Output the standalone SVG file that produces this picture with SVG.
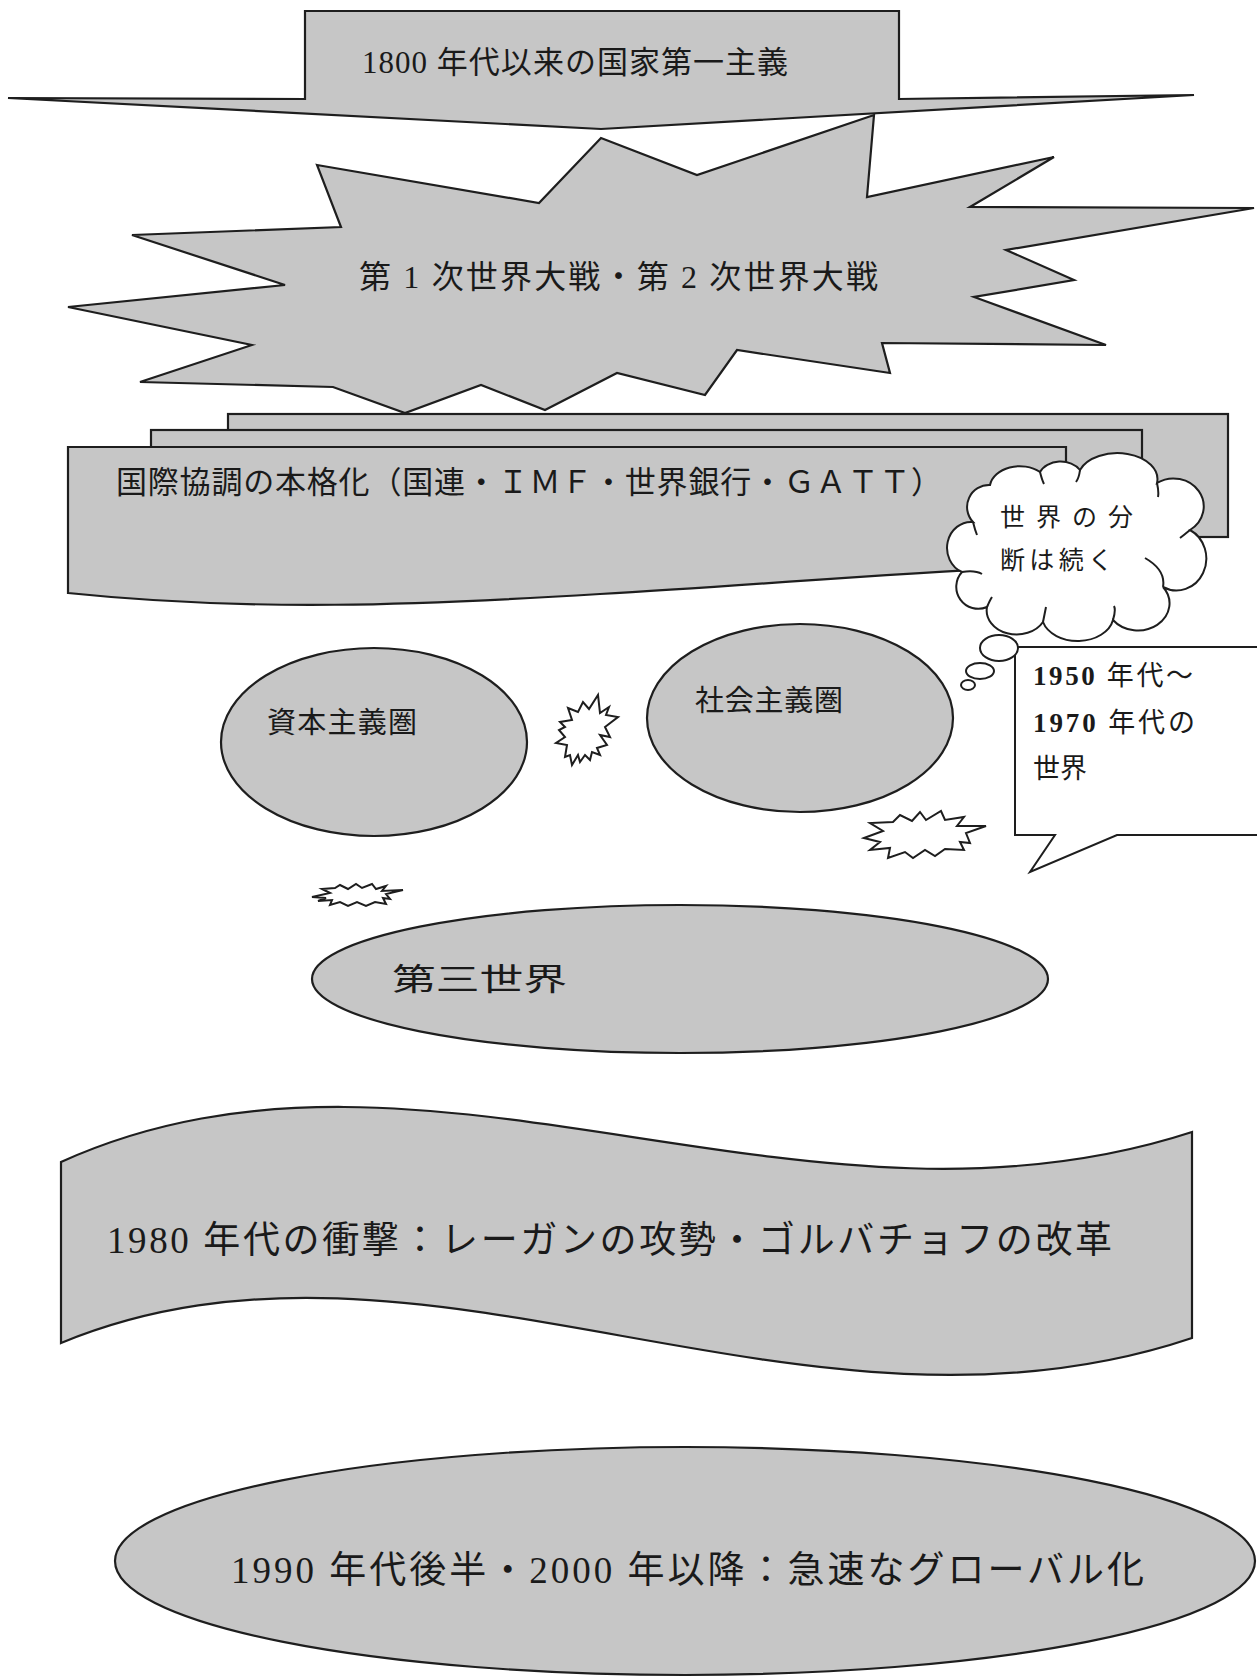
<svg xmlns="http://www.w3.org/2000/svg" width="1257" height="1677" viewBox="0 0 1257 1677">
<style>
.shape{fill:#c6c6c6;stroke:#1e1e1e;stroke-width:2.2;stroke-linejoin:miter}
.white{fill:#ffffff;stroke:#1e1e1e;stroke-width:2}
.line{fill:none;stroke:#1e1e1e;stroke-width:2}
.t{font-family:'Liberation Serif','Noto Sans CJK JP',serif;fill:#1a1a1a}
.b{font-weight:bold}
</style>
<rect width="1257" height="1677" fill="#ffffff"/>
<g id="arrow-1800">
<path class="shape" d="M305,11 L899,11 L899,99 L1194,95 L601,129 L8,98 L305,99 Z"/>
<text class="t" x="362" y="73" font-size="31" textLength="426">1800 年代以来の国家第一主義</text>
</g>
<g id="explosion-wars">
<path class="shape" d="M317,165 L539,203 L601,138 L697,175 L874,115 L867,197 L1054,157 L970,207 L1254,208 L1006,250 L1074,280 L974,297 L1106,345 L882,343 L890,373 L737,350 L705,395 L617,373 L545,410 L481,385 L405,413 L333,387 L140,382 L252,345 L68,307 L285,285 L132,235 L341,227 Z"/>
<text class="t" x="359" y="288" font-size="32" textLength="519">第 1 次世界大戦・第 2 次世界大戦</text>
</g>
<g id="pages-cooperation">
<rect class="shape" x="228" y="414" width="1000" height="123"/>
<rect class="shape" x="151" y="430" width="991" height="125"/>
<path class="shape" d="M68,447 L1066,447 L1066,565 C900,572 760,585 600,594 C420,605 250,612 68,593 Z"/>
<text class="t" x="116" y="493" font-size="31" textLength="826">国際協調の本格化（国連・ＩＭＦ・世界銀行・ＧＡＴＴ）</text>
</g>
<g id="callout-period">
<path class="white" d="M1015,647 L1262,647 L1262,835 L1117,835 L1030,872 L1055,835 L1015,835 Z"/>
<text class="t" x="1033" y="685" font-size="27" textLength="160"><tspan class="b">1950</tspan> 年代～</text>
<text class="t" x="1033" y="732" font-size="27" textLength="162"><tspan class="b">1970</tspan> 年代の</text>
<text class="t" x="1033" y="778" font-size="27">世界</text>
</g>
<g id="cloud-division">
<path class="white" d="M962,572 A24,26 0 0 1 973,522 A22,22 0 0 1 990,485 A30,22 0 0 1 1040,472 A22,16 0 0 1 1080,470 A40,26 0 0 1 1157,483 A28,26 0 0 1 1190,530 A28,30 0 0 1 1163,587 A28,24 0 0 1 1113,620 A36,26 0 0 1 1043,622 A30,24 0 0 1 987,607 A22,22 0 0 1 962,572 Z"/>
<path class="line" d="M962,572 Q975,570 982,574 M973,522 Q975,530 977,535 M1040,472 Q1042,480 1044,484 M1080,470 Q1079,478 1076,482 M1157,483 Q1159,492 1158,497 M1190,530 Q1184,535 1180,538 M1163,587 Q1166,570 1145,558 M1113,620 Q1116,610 1114,606 M1043,622 Q1045,612 1046,607 M987,607 Q990,600 992,597"/>
<text class="t" x="1000" y="526" font-size="25" textLength="133">世界の分</text>
<text class="t" x="1000" y="569" font-size="25" textLength="113">断は続く</text>
<ellipse class="white" cx="999" cy="648" rx="19" ry="13"/>
<ellipse class="white" cx="980" cy="671" rx="14" ry="8"/>
<ellipse class="white" cx="968" cy="685" rx="7" ry="5"/>
</g>
<g id="ellipse-capitalism">
<ellipse class="shape" cx="374" cy="742" rx="153" ry="94"/>
<text class="t" x="267" y="733" font-size="29" textLength="150">資本主義圏</text>
</g>
<g id="ellipse-socialism">
<ellipse class="shape" cx="800" cy="718" rx="153" ry="94"/>
<text class="t" x="695" y="711" font-size="29" textLength="148">社会主義圏</text>
</g>
<g id="burst-middle">
<path class="white" d="M568,708 L578,712 L583,702 L589,709 L598,695 L600,713 L609,707 L606,715 L618,717 L605,727 L610,737 L600,735 L607,745 L597,748 L600,755 L592,752 L590,760 L585,755 L580,762 L578,755 L572,765 L570,755 L565,757 L567,745 L556,743 L565,737 L559,730 L565,727 L560,722 L572,720 Z"/>
</g>
<g id="burst-right">
<path class="white" d="M864,838 L883,831 L870,823 L893,822 L900,815 L912,821 L920,812 L926,820 L941,811 L945,820 L964,817 L957,826 L986,826 L966,833 L970,843 L960,842 L964,850 L945,849 L935,856 L925,850 L913,858 L905,852 L888,858 L890,848 L870,850 L880,842 Z"/>
</g>
<g id="burst-left">
<path class="white" d="M312,897 L330,893 L322,889 L335,888 L340,885 L348,889 L356,884 L362,888 L372,884 L376,889 L386,886 L382,891 L403,890 L386,894 L390,899 L383,898 L386,904 L375,902 L366,906 L357,902 L348,906 L340,902 L330,905 L332,900 L318,901 L326,898 Z"/>
</g>
<g id="ellipse-third-world">
<ellipse class="shape" cx="680" cy="979" rx="368" ry="74"/>
<text class="t" x="392" y="990" font-size="31" textLength="175" lengthAdjust="spacingAndGlyphs">第三世界</text>
</g>
<g id="banner-1980s">
<path class="shape" d="M61,1162 C420,1000 800,1260 1192,1132 L1192,1338 C800,1470 420,1195 61,1343 Z"/>
<text class="t" x="107" y="1253" font-size="37" textLength="1005">1980 年代の衝撃：レーガンの攻勢・ゴルバチョフの改革</text>
</g>
<g id="ellipse-globalization">
<ellipse class="shape" cx="685" cy="1561" rx="570" ry="114"/>
<text class="t" x="231" y="1583" font-size="37" textLength="913">1990 年代後半・2000 年以降：急速なグローバル化</text>
</g>
<g id="connectors"/>
</svg>
